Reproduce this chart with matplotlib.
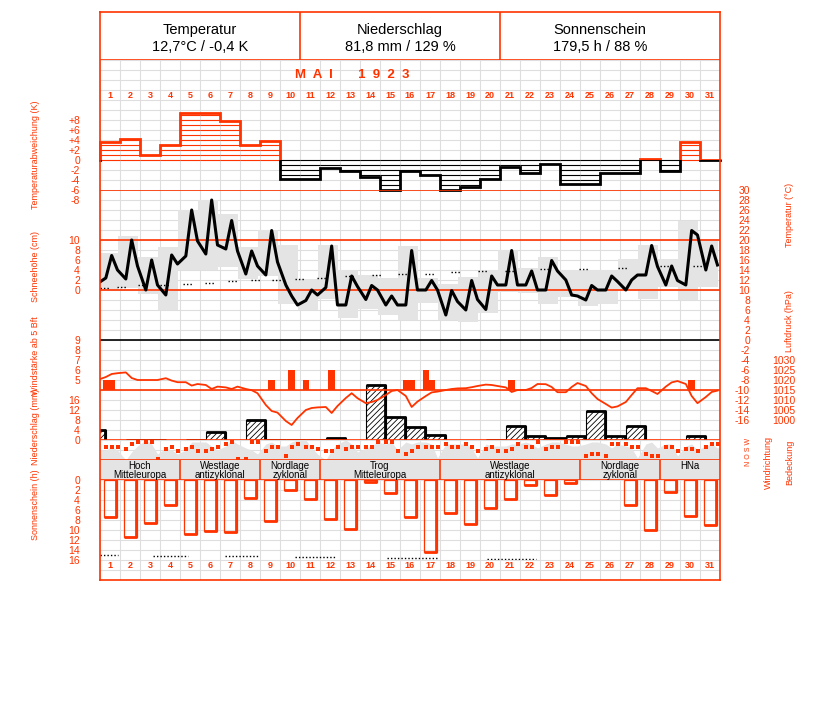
import numpy as np
import matplotlib.pyplot as plt
from matplotlib import font_manager
from matplotlib.patches import Rectangle

names = {f.name for f in font_manager.fontManager.ttflist}
if 'Liberation Sans Narrow' in names:
    LAB_FONT, LAB_SIZE = 'Liberation Sans Narrow', 7.5
else:
    LAB_FONT, LAB_SIZE = 'Liberation Sans', 6.5
plt.rcParams['font.family'] = ['Liberation Sans', 'DejaVu Sans']
plt.rcParams['hatch.linewidth'] = 0.6

RED = '#ff3300'
GRID = '#dedede'
GRAY = '#e4e4e4'
W, H = 827, 702

# ---------------- Daten Mai 1923 ----------------
days = np.arange(1, 32)
hours = np.array([7, 14, 21])

# Abweichung der Tagesmitteltemperatur (K)
t_dev = [3.7, 4.3, 1.1, 3.1, 9.5, 9.5, 7.8, 3.1, 3.9, -3.8, -3.7, -1.5, -2.1, -3.3, -5.9, -2.1,
         -2.9, -6.1, -5.3, -3.8, -1.3, -2.5, -0.7, -4.8, -4.8, -2.5, -2.5, 0.3, -2.2, 3.7, 0.0]

# Temperatur 7/14/21 Uhr (°C)
t_start = 11.3
t_obs = [[12.4, 16.9, 14.0], [12.2, 20.0, 14.8], [10.0, 16.0, 11.0], [9.0, 17.0, 15.2],
         [16.8, 26.0, 19.8], [17.2, 28.0, 19.0], [18.2, 23.9, 17.8], [13.2, 17.8, 14.8],
         [13.0, 21.9, 15.6], [11.0, 8.8, 7.0], [7.9, 10.0, 9.0], [10.5, 18.8, 7.0],
         [7.0, 12.8, 10.7], [8.1, 10.9, 10.0], [7.0, 8.8, 7.0], [7.0, 17.9, 10.0],
         [10.0, 11.9, 10.0], [5.0, 9.9, 7.7], [6.0, 11.9, 8.1], [6.1, 12.8, 11.0],
         [11.0, 17.9, 11.0], [11.0, 13.8, 10.0], [10.0, 15.9, 13.8], [12.0, 9.0, 8.8],
         [8.0, 10.9, 10.0], [10.0, 12.8, 11.7], [10.0, 12.0, 13.0], [13.0, 18.9, 14.7],
         [11.0, 14.8, 11.9], [11.0, 21.9, 21.0], [14.0, 18.8, 15.0]]

# Tagesmaximum / -minimum (°C)
t_max = [17.5, 20.8, 16.7, 18.7, 26.0, 28.0, 25.3, 18.7, 22.0, 19.0, 12.3, 19.0, 14.0, 13.0, 12.5, 18.8,
         12.5, 11.2, 12.6, 14.0, 18.1, 14.5, 16.7, 14.0, 14.0, 14.0, 16.2, 19.0, 16.3, 23.9, 20.3]
t_min = [10.0, 10.4, 9.3, 6.0, 14.0, 14.0, 14.7, 12.3, 12.8, 7.3, 6.0, 8.3, 4.5, 6.3, 5.0, 4.0,
         7.5, 4.0, 3.6, 5.5, 9.7, 9.5, 7.3, 8.7, 6.8, 7.3, 10.0, 8.3, 10.7, 8.0, 10.7]

# langjähriges Mittel (°C)
t_clim_day = [0.0, 0.83, 1.92, 3.0, 4.17, 5.25, 6.42, 7.53, 8.62, 9.75, 10.83, 12.25,
              13.58, 14.92, 16.25, 17.55, 18.92, 20.25, 22.0, 23.97, 25.88, 28.0, 29.67]
t_clim = [10.5, 10.7, 11.0, 11.1, 11.3, 11.5, 11.8, 12.0, 12.1, 12.3, 12.5, 12.8,
          13.0, 13.2, 13.3, 13.6, 13.8, 13.9, 14.2, 14.3, 14.5, 14.8, 14.9]

# Luftdruck 7/14/21 Uhr (hPa)
p_start = 1020.0
p_obs = [[1021.5, 1023.0, 1023.4], [1023.8, 1021.0, 1020.0], [1020.0, 1020.0, 1020.0],
         [1020.9, 1019.7, 1018.9], [1018.9, 1017.2, 1018.0], [1017.5, 1015.5, 1016.7],
         [1016.3, 1015.5, 1016.7], [1015.5, 1014.9, 1013.4], [1007.5, 1004.5, 1003.7],
         [999.5, 997.5, 1001.0], [1005.0, 1006.0, 1006.3], [1006.5, 1003.5, 1007.0],
         [1011.0, 1013.4, 1010.9], [1008.4, 1009.0, 1010.0], [1012.5, 1014.5, 1015.0],
         [1012.0, 1006.5, 1009.2], [1012.0, 1013.8, 1014.2], [1015.0, 1015.5, 1015.8],
         [1015.9, 1016.4, 1017.0], [1017.7, 1017.5, 1017.0], [1016.3, 1014.0, 1015.0],
         [1015.0, 1016.0, 1018.0], [1017.9, 1016.5, 1013.9], [1013.9, 1016.5, 1018.5],
         [1017.0, 1013.4, 1010.5], [1008.0, 1006.2, 1006.8], [1009.0, 1012.5, 1015.9],
         [1015.9, 1014.5, 1013.0], [1016.7, 1018.8, 1019.5], [1018.0, 1012.0, 1008.4],
         [1011.5, 1014.0, 1014.7]]

# Windstärke ab 5 Bft
wind_day = [1, 1, 9, 10, 11, 12, 16, 16, 17, 17, 21, 30]
wind_hour = [7, 14, 14, 14, 7, 14, 7, 14, 7, 14, 14, 14]
wind_bft = [5, 5, 5, 6, 5, 6, 5, 5, 6, 5, 5, 5]

# Niederschlag (mm), Messung 7 Uhr
precip = [4.0, 0, 0.1, 0.1, 0, 0.1, 3.1, 0, 8.0, 0.1, 0.1, 0.1, 0.9, 0, 22.0, 9.1,
          5.1, 2.0, 0, 0, 0.1, 5.7, 1.7, 0.9, 1.7, 11.7, 1.7, 5.7, 0, 0, 1.7]

# Bedeckung 7/14/21 Uhr (Zehntel)
cloud = [[5, 6.5, 5], [0, 4, 7], [10, 8, 3], [6, 5, 3], [5, 9, 9], [9, 7, 5], [7, 10, 8],
         [6, 5, 3], [8, 9, 7], [7, 9, 10], [10, 6, 3], [0, 5, 8], [10, 8, 4], [6, 7, 9],
         [8, 9, 5], [9, 8, 9], [9, 8, 1], [8, 8, 8], [8, 6, 1], [8, 7, 7], [7, 8, 8],
         [9, 8, 6], [8, 9, 9], [8, 7, 7], [8, 9, 9], [8, 6, 8], [7, 6, 1], [8, 9, 6],
         [8, 8, 2], [7, 8, 5], [7, 8, 6]]

# Windrichtung 7/14/21 Uhr (Stufe 0..7)
wind_dir = [[2, 2, 2], [3, 1, 0], [0, 0, 7], [3, 2, 4], [3, 2, 4], [4, 3, 2], [1, 0, 7],
            [7, 0, 0], [4, 2, 2], [6, 2, 1], [2, 2, 3], [4, 4, 2], [3, 2, 2], [2, 2, 0],
            [0, 0, 4], [5, 4, 2], [2, 2, 2], [1, 2, 2], [1, 2, 4], [3, 2, 4], [4, 3, 1],
            [2, 2, 0], [3, 2, 2], [0, 0, 0], [6, 5, 5], [6, 1, 1], [1, 2, 2], [5, 6, 6],
            [2, 2, 4], [3, 3, 4], [2, 1, 1]]
dir_labels = ['N', 'O', 'S', 'W']

# Großwetterlagen
wt_start = [0, 4, 8, 11, 17, 24, 28]
wt_end = [4, 8, 11, 17, 24, 28, 31]
wt_label = ['Hoch\nMitteleuropa', 'Westlage\nantizyklonal', 'Nordlage\nzyklonal',
            'Trog\nMitteleuropa', 'Westlage\nantizyklonal', 'Nordlage\nzyklonal', 'HNa\n ']

# Sonnenscheindauer (h)
sun = [7.3, 11.3, 8.5, 4.9, 10.7, 10.1, 10.3, 3.5, 8.1, 1.9, 3.7, 7.7, 9.7, 0.3, 2.5, 7.3,
       14.3, 6.5, 8.7, 5.5, 3.7, 0.9, 2.9, 0.5, 0, 0, 4.9, 9.9, 2.3, 7.1, 9.0]
# astronomisch mögliche Sonnenscheindauer (h)
sun_astro_from = [0.0, 2.65, 6.25, 9.75, 14.35, 19.35, 24.45, 29.75]
sun_astro_to = [0.9, 4.4, 7.9, 11.8, 16.85, 21.8, 27.1, 31.0]
sun_astro = [14.9, 15.1, 15.2, 15.4, 15.6, 15.8, 16.1, 16.3]

header_title = ['Temperatur', 'Niederschlag', 'Sonnenschein']
header_value = ['12,7°C / -0,4 K', '81,8 mm / 129 %', '179,5 h / 88 %']

# ---------------- Zeichnung ----------------
fig = plt.figure(figsize=(W / 100, H / 100), dpi=100)


def panel(x0, y0, x1, y1, ylim=(0, 1), z=2):
    ax = fig.add_axes([x0 / W, 1 - y1 / H, (x1 - x0) / W, (y1 - y0) / H], zorder=z)
    ax.set_xlim(0, 31)
    ax.set_ylim(*ylim)
    ax.patch.set_visible(False)
    for s in ax.spines.values():
        s.set_visible(False)
    ax.set_xticks([])
    ax.set_yticks([])
    ax.tick_params(length=0, labelcolor=RED, labelsize=7.5)
    return ax


def left_ticks(ax, vals, labels):
    ax.set_yticks(vals)
    ax.set_yticklabels(labels)
    ax.tick_params(axis='y', pad=14.4)


def right_ticks(ax, vals, labels, pad):
    ax.yaxis.tick_right()
    ax.set_yticks(vals)
    ax.set_yticklabels(labels)
    ax.tick_params(axis='y', length=0, pad=pad, labelleft=False, labelright=True)
    for t in ax.yaxis.get_major_ticks():
        t.label2.set_horizontalalignment('right')


obs_x = (np.repeat(days - 1, 3) + np.tile(hours, 31) / 24.0)

# Gitter
bg = panel(100, 60, 720, 580, ylim=(52, 0), z=0)
bg.patch.set_visible(True)
bg.patch.set_facecolor('white')
bg.vlines(np.arange(32), 0, 52, color=GRID, lw=0.8)
bg.hlines(np.arange(53), 0, 31, color=GRID, lw=0.8)
for d in days:
    bg.text(d - 0.5, 3.5, str(d), color=RED, fontsize=6.5, ha='center', va='center', fontweight='bold')
    bg.text(d - 0.5, 50.5, str(d), color=RED, fontsize=6.5, ha='center', va='center', fontweight='bold')
bg.text(12.6, 1.5, 'M  A  I       1  9  2  3', color=RED, fontsize=9.5, fontweight='bold',
        ha='center', va='center')

# Kopf
hd = panel(100, 12, 720, 60, z=5)
hd.axvline(10, color=RED, lw=1.2)
hd.axvline(20, color=RED, lw=1.2)
hd.axhline(0, color=RED, lw=1.2)
for cx, t1, t2 in zip([5, 15, 25], header_title, header_value):
    hd.text(cx, 0.62, t1, ha='center', va='center', fontsize=10.5)
    hd.text(cx, 0.27, t2, ha='center', va='center', fontsize=10.5)

# Rahmen
fr = panel(100, 12, 720, 580, z=10)
for s in fr.spines.values():
    s.set_visible(True)
    s.set_color(RED)
    s.set_linewidth(1.2)

# Temperaturabweichung
dv = panel(100, 100, 720, 200, ylim=(-8, 12), z=3)
tv = np.array(t_dev)
for d, v in enumerate(tv):
    c = RED if v >= 0 else 'black'
    lv = np.arange(0, int(abs(v)) + 1) * (1 if v >= 0 else -1)
    dv.hlines(lv, d, d + 1, color=c, lw=0.8)
ox = np.repeat(np.arange(32), 2)
oy = np.concatenate([[0], np.repeat(tv, 2), [0]])
lp, = dv.plot(ox, oy, color=RED, lw=2.0, solid_joinstyle='miter')
lp.set_clip_path(Rectangle((-1, 0), 33, 20, transform=dv.transData))
ln, = dv.plot(ox, oy, color='black', lw=2.0, solid_joinstyle='miter')
ln.set_clip_path(Rectangle((-1, -20), 33, 20, transform=dv.transData))
left_ticks(dv, np.arange(-8, 9, 2), ['-8', '-6', '-4', '-2', '0', '+2', '+4', '+6', '+8'])

# Temperatur
tp = panel(100, 190, 720, 420, ylim=(-16, 30), z=3)
tmax = np.array(t_max)
tmin = np.array(t_min)
tp.bar(days - 1 - 0.125, tmax - tmin, bottom=tmin, width=1, align='edge', color=GRAY, zorder=1)
tp.hlines(t_clim, t_clim_day, np.array(t_clim_day) + 0.5, colors='black', lw=1,
          linestyles=(0, (1, 1.5)), zorder=2)
for lvl, c in [(30, RED), (20, RED), (10, RED), (0, 'black')]:
    tp.axhline(lvl, color=c, lw=1.2, zorder=2)
tp.plot(np.r_[-0.125, obs_x], np.r_[t_start, np.ravel(t_obs)], color='black', lw=2.2, zorder=3)
right_ticks(tp, np.arange(-16, 31, 2), [str(v) for v in range(-16, 31, 2)], 21.6)

# Schneehöhe (nur Skala)
sh = panel(100, 240, 720, 290, ylim=(0, 10), z=3)
left_ticks(sh, np.arange(0, 11, 2), [str(v) for v in range(0, 11, 2)])

# Windstärke
wd = panel(100, 340, 720, 390, ylim=(4, 9), z=4)
wx = np.array(wind_day) - 1 + np.array(wind_hour) / 24.0
wd.bar(wx, np.array(wind_bft) - 4, bottom=4, width=1 / 3, color=RED)
left_ticks(wd, np.arange(5, 10), [str(v) for v in range(5, 10)])

# Luftdruck
pr = panel(100, 340, 720, 440, ylim=(990, 1040), z=4)
pr.axhline(1015, color=RED, lw=1.2)
pr.plot(np.r_[-0.125, obs_x], np.r_[p_start, np.ravel(p_obs)], color=RED, lw=1.3)
right_ticks(pr, np.arange(1000, 1031, 5), [str(v) for v in range(1000, 1031, 5)], 54)

# Niederschlag
pc = panel(100, 380, 720, 440, ylim=(0, 24), z=3)
pv = np.array(precip)
px = days - 1.71
m = pv > 0
pc.bar(px[m], pv[m], width=1, align='edge', facecolor='white', edgecolor='black',
       hatch='//////', lw=0.8)
pc.vlines(px[m] + 0.97, 0, pv[m], color='black', lw=2.0)
pc.hlines(pv[m], px[m], px[m] + 1, color='black', lw=2.0)
pc.axhline(0, color=RED, lw=1.2)
left_ticks(pc, np.arange(0, 17, 4), [str(v) for v in range(0, 17, 4)])

# Bedeckung und Windrichtung
cl = panel(100, 440, 720, 460, ylim=(0, 10), z=2)
cv = np.ravel(cloud)
cl.fill_between(np.r_[0, obs_x, 31], np.r_[cv[0], cv, cv[-1]], 0, color=GRAY, lw=0)
cl.axhline(0, color=RED, lw=1.2)
dr = panel(100, 440, 720, 460, ylim=(7.6, -0.7), z=3)
dr.plot(obs_x, np.ravel(wind_dir), 's', color=RED, ms=2.2, mew=0)

# Großwetterlagen
wt = panel(100, 460, 720, 480, z=3)
wt.bar(wt_start, 1, width=np.array(wt_end) - np.array(wt_start), align='edge', color=GRAY)
wt.vlines(wt_start[1:], 0, 1, color=RED, lw=1.2)
wt.axhline(0, color=RED, lw=1.2)
for a, b, lab in zip(wt_start, wt_end, wt_label):
    wt.text((a + b) / 2, 0.48, lab, ha='center', va='center', fontsize=7, linespacing=0.85)

# Sonnenschein
su = panel(100, 480, 720, 560, ylim=(16, 0), z=3)
sv = np.array(sun)
sx = days - 1 + 0.2
m = sv > 0
su.bar(sx[m], sv[m], width=0.63, align='edge', fill=False, edgecolor=RED, lw=0.9)
su.vlines(sx[m] + 0.6, 0, sv[m], color=RED, lw=2.0)
su.hlines(sv[m], sx[m], sx[m] + 0.63, color=RED, lw=2.0)
su.hlines(sun_astro, sun_astro_from, sun_astro_to, colors='black', lw=1, linestyles=(0, (1, 1.5)))
left_ticks(su, np.arange(0, 17, 2), [str(v) for v in range(0, 17, 2)])

# Achsentitel
lab_kw = dict(color=RED, rotation=90, ha='center', va='center', fontsize=LAB_SIZE, family=LAB_FONT)
for yy, txt in [(155, 'Temperaturabweichung (K)'), (267, 'Schneehöhe (cm)'),
                (356, 'Windstärke ab 5 Bft'), (427, 'Niederschlag (mm)'), (505, 'Sonnenschein (h)')]:
    fig.text(35 / W, 1 - yy / H, txt, **lab_kw)
for xx, yy, txt in [(790, 215, 'Temperatur (°C)'), (790, 321, 'Luftdruck (hPa)'),
                    (768, 462, 'Windrichtung'), (790, 462, 'Bedeckung')]:
    fig.text(xx / W, 1 - yy / H, txt, **lab_kw)
fig.text(748 / W, 1 - 452 / H, ' '.join(dir_labels), color=RED, rotation=90, ha='center',
         va='center', fontsize=5)

fig.savefig('out.png', dpi=100)
